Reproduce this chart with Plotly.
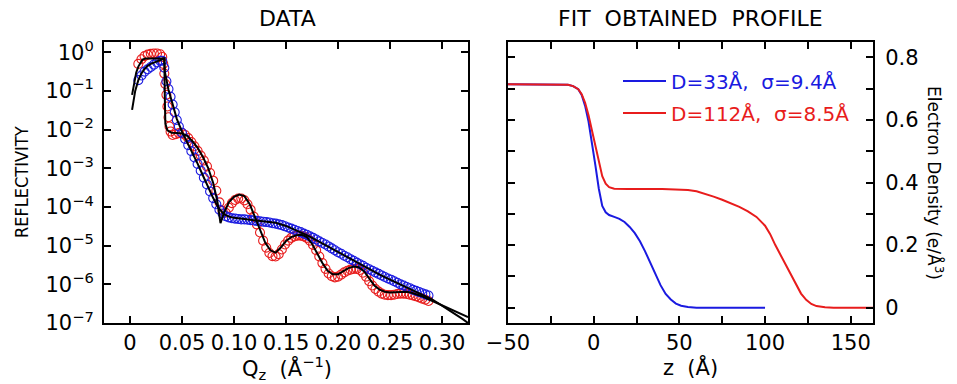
import plotly.graph_objects as go

# ---------------- LEFT PANEL DATA (Q in 1/Å, log10 reflectivity) ----------------
red_q = [0.008, 0.011, 0.014, 0.017, 0.020, 0.023, 0.026, 0.029, 0.031, 0.032, 0.033, 0.034,
         0.035, 0.036, 0.037, 0.038, 0.039, 0.041, 0.044, 0.047, 0.050, 0.053, 0.056, 0.059,
         0.062, 0.065, 0.068, 0.071, 0.074, 0.077, 0.080, 0.083, 0.086, 0.089, 0.092, 0.095,
         0.098, 0.101, 0.104, 0.107, 0.110, 0.113, 0.116, 0.119, 0.122, 0.125, 0.128, 0.131,
         0.134, 0.137, 0.140, 0.143, 0.146, 0.149, 0.152, 0.155, 0.158, 0.161, 0.164, 0.167,
         0.170, 0.173, 0.176, 0.179, 0.182, 0.185, 0.188, 0.191, 0.194, 0.197, 0.200, 0.203,
         0.206, 0.209, 0.212, 0.215, 0.218, 0.221, 0.224, 0.227, 0.230, 0.233, 0.236, 0.239,
         0.242, 0.245, 0.248, 0.251, 0.254, 0.257, 0.260, 0.263, 0.266, 0.269, 0.272, 0.275,
         0.278, 0.281, 0.284, 0.287]
red_logR = [-0.30, -0.18, -0.10, -0.06, -0.04, -0.03, -0.03, -0.05, -0.12, -0.30, -0.55, -0.82,
            -1.10, -1.40, -1.68, -1.92, -2.05, -2.14, -2.12, -2.09, -2.09, -2.14, -2.22, -2.32,
            -2.43, -2.55, -2.67, -2.80, -2.95, -3.12, -3.32, -3.58, -3.88, -4.10, -4.15, -4.02,
            -3.90, -3.82, -3.78, -3.78, -3.83, -3.93, -4.07, -4.25, -4.45, -4.66, -4.87, -5.05,
            -5.19, -5.27, -5.28, -5.22, -5.10, -4.97, -4.87, -4.80, -4.76, -4.74, -4.74, -4.76,
            -4.80, -4.87, -4.98, -5.12, -5.28, -5.45, -5.60, -5.72, -5.79, -5.82, -5.80, -5.75,
            -5.69, -5.65, -5.62, -5.60, -5.60, -5.63, -5.70, -5.80, -5.92, -6.03, -6.12, -6.19,
            -6.24, -6.27, -6.28, -6.28, -6.27, -6.25, -6.24, -6.24, -6.25, -6.27, -6.29, -6.31,
            -6.34, -6.37, -6.40, -6.43]

blue_q = [0.008, 0.011, 0.014, 0.017, 0.020, 0.023, 0.026, 0.029, 0.031, 0.033, 0.035, 0.037,
          0.039, 0.041, 0.043, 0.045, 0.047, 0.050, 0.053, 0.056, 0.059, 0.062, 0.065, 0.068,
          0.071, 0.074, 0.077, 0.080, 0.083, 0.086, 0.089, 0.092, 0.095, 0.098, 0.101, 0.104,
          0.107, 0.110, 0.113, 0.116, 0.119, 0.122, 0.125, 0.128, 0.131, 0.134, 0.137, 0.140,
          0.143, 0.146, 0.149, 0.152, 0.155, 0.158, 0.161, 0.164, 0.167, 0.170, 0.173, 0.176,
          0.179, 0.182, 0.185, 0.188, 0.191, 0.194, 0.197, 0.200, 0.203, 0.206, 0.209, 0.212,
          0.215, 0.218, 0.221, 0.224, 0.227, 0.230, 0.233, 0.236, 0.239, 0.242, 0.245, 0.248,
          0.251, 0.254, 0.257, 0.260, 0.263, 0.266, 0.269, 0.272, 0.275, 0.278, 0.281, 0.284,
          0.287]
blue_logR = [-0.72, -0.60, -0.50, -0.44, -0.38, -0.32, -0.26, -0.22, -0.22, -0.40, -0.75, -0.95,
             -1.15, -1.35, -1.55, -1.75, -1.92, -2.08, -2.24, -2.40, -2.56, -2.72, -2.89, -3.06,
             -3.24, -3.42, -3.60, -3.77, -3.93, -4.07, -4.17, -4.24, -4.27, -4.29, -4.30, -4.31,
             -4.32, -4.32, -4.33, -4.34, -4.35, -4.36, -4.37, -4.38, -4.39, -4.40, -4.42, -4.43,
             -4.45, -4.47, -4.50, -4.53, -4.56, -4.59, -4.62, -4.65, -4.69, -4.72, -4.76, -4.80,
             -4.84, -4.89, -4.93, -4.97, -5.02, -5.07, -5.12, -5.17, -5.21, -5.26, -5.30, -5.35,
             -5.39, -5.44, -5.48, -5.52, -5.57, -5.61, -5.65, -5.69, -5.73, -5.77, -5.81, -5.85,
             -5.88, -5.92, -5.96, -6.00, -6.03, -6.07, -6.10, -6.14, -6.17, -6.20, -6.23, -6.26,
             -6.29]

fit_red_q = [0.002, 0.004, 0.006, 0.008, 0.010, 0.012, 0.015, 0.020, 0.025, 0.030, 0.033, 0.0335,
             0.034, 0.036, 0.040, 0.045, 0.050, 0.055, 0.060, 0.065, 0.070, 0.075, 0.080, 0.084,
             0.087, 0.090, 0.095, 0.100, 0.105, 0.110, 0.115, 0.120, 0.125, 0.130, 0.135, 0.140,
             0.145, 0.150, 0.155, 0.160, 0.165, 0.170, 0.175, 0.180, 0.185, 0.190, 0.195, 0.200,
             0.205, 0.210, 0.215, 0.220, 0.225, 0.230, 0.235, 0.240, 0.245, 0.250, 0.255, 0.260,
             0.265, 0.270, 0.275, 0.280, 0.285, 0.290, 0.300, 0.310, 0.320, 0.325]
fit_red_logR = [-1.10, -0.75, -0.52, -0.37, -0.26, -0.19, -0.16, -0.16, -0.16, -0.16, -0.16, -1.20,
                -1.85, -2.02, -2.08, -2.09, -2.10, -2.16, -2.30, -2.47, -2.70, -2.98, -3.38, -3.85,
                -4.42, -4.18, -3.88, -3.74, -3.68, -3.72, -3.92, -4.25, -4.60, -4.92, -5.12, -5.18,
                -5.05, -4.88, -4.78, -4.73, -4.72, -4.78, -4.95, -5.20, -5.45, -5.65, -5.74, -5.74,
                -5.66, -5.58, -5.54, -5.56, -5.66, -5.86, -6.03, -6.14, -6.19, -6.21, -6.20, -6.19,
                -6.19, -6.21, -6.25, -6.30, -6.36, -6.42, -6.55, -6.68, -6.80, -6.85]

fit_blue_q = [0.002, 0.005, 0.008, 0.011, 0.014, 0.017, 0.020, 0.024, 0.029, 0.033, 0.0335, 0.035,
              0.037, 0.040, 0.045, 0.050, 0.055, 0.060, 0.065, 0.070, 0.075, 0.080, 0.085, 0.090,
              0.095, 0.100, 0.110, 0.120, 0.130, 0.140, 0.150, 0.160, 0.170, 0.180, 0.190, 0.200,
              0.210, 0.220, 0.230, 0.240, 0.250, 0.260, 0.270, 0.280, 0.290, 0.300, 0.310, 0.320,
              0.325]
fit_blue_logR = [-1.49, -1.00, -0.72, -0.55, -0.43, -0.35, -0.30, -0.26, -0.22, -0.16, -0.50, -0.75,
                 -0.97, -1.25, -1.72, -2.05, -2.32, -2.60, -2.88, -3.18, -3.48, -3.77, -4.02, -4.18,
                 -4.25, -4.28, -4.31, -4.34, -4.37, -4.41, -4.49, -4.60, -4.73, -4.87, -5.02, -5.17,
                 -5.32, -5.47, -5.61, -5.75, -5.88, -6.00, -6.12, -6.24, -6.38, -6.55, -6.72, -6.90,
                 -7.00]

q_ticks = [0, 0.05, 0.10, 0.15, 0.20, 0.25, 0.30]
q_ticklabels = ["0", "0.05", "0.10", "0.15", "0.20", "0.25", "0.30"]
r_exponents = [0, -1, -2, -3, -4, -5, -6, -7]

# ---------------- RIGHT PANEL DATA (z in Å, electron density e/Å^3) ----------------
prof_blue_z = [-50, -20, -15, -12, -9, -7, -5, -3, -1, 1, 3, 5, 7, 9, 12, 15, 18, 21, 24, 27,
               30, 33, 36, 39, 42, 45, 48, 51, 55, 60, 100]
prof_blue_rho = [0.714, 0.714, 0.712, 0.708, 0.698, 0.680, 0.645, 0.595, 0.530, 0.455, 0.380,
                 0.325, 0.305, 0.296, 0.290, 0.284, 0.274, 0.258, 0.238, 0.212, 0.180, 0.145,
                 0.108, 0.072, 0.044, 0.026, 0.013, 0.006, 0.002, 0.0, 0.0]

prof_red_z = [-50, -20, -15, -12, -9, -7, -5, -3, -1, 1, 3, 5, 7, 9, 12, 20, 40, 50, 55, 60,
              65, 70, 75, 80, 85, 90, 95, 100, 103, 106, 109, 112, 115, 118, 121, 124, 127,
              130, 135, 140, 163]
prof_red_rho = [0.714, 0.714, 0.712, 0.708, 0.698, 0.682, 0.655, 0.615, 0.565, 0.510, 0.460,
                0.420, 0.396, 0.385, 0.380, 0.379, 0.379, 0.378, 0.376, 0.372, 0.364, 0.355,
                0.345, 0.334, 0.322, 0.308, 0.290, 0.262, 0.235, 0.200, 0.168, 0.140, 0.105,
                0.072, 0.045, 0.025, 0.012, 0.005, 0.001, 0.0, 0.0]

z_ticks = [-50, 0, 50, 100, 150]
z_ticklabels = ["\u221250", "0", "50", "100", "150"]
rho_ticks = [0, 0.2, 0.4, 0.6, 0.8]
rho_ticklabels = ["0", "0.2", "0.4", "0.6", "0.8"]

legend_blue = "D=33\u00c5,\u00a0\u00a0\u03c3=9.4\u00c5"
legend_red = "D=112\u00c5,\u00a0\u00a0\u03c3=8.5\u00c5"

# ---------------- STYLE ----------------
W, H = 957, 384
FONT = "DejaVu Sans, Liberation Sans, Arial, sans-serif"
BLUE = "#1a1ae0"
RED = "#e81c1c"

fig = go.Figure()

fig.add_trace(go.Scatter(x=red_q, y=[10 ** v for v in red_logR], mode="markers",
                         marker=dict(symbol="circle-open", size=9, color=RED, line=dict(width=1.1, color=RED)),
                         showlegend=False, xaxis="x", yaxis="y"))
fig.add_trace(go.Scatter(x=blue_q, y=[10 ** v for v in blue_logR], mode="markers",
                         marker=dict(symbol="circle-open", size=9, color=BLUE, line=dict(width=1.1, color=BLUE)),
                         showlegend=False, xaxis="x", yaxis="y"))
fig.add_trace(go.Scatter(x=fit_blue_q, y=[10 ** v for v in fit_blue_logR], mode="lines",
                         line=dict(color="black", width=2), showlegend=False, xaxis="x", yaxis="y"))
fig.add_trace(go.Scatter(x=fit_red_q, y=[10 ** v for v in fit_red_logR], mode="lines",
                         line=dict(color="black", width=2), showlegend=False, xaxis="x", yaxis="y"))

fig.add_trace(go.Scatter(x=prof_blue_z, y=prof_blue_rho, mode="lines", name=legend_blue,
                         line=dict(color=BLUE, width=2), xaxis="x2", yaxis="y2", legend="legend"))
fig.add_trace(go.Scatter(x=prof_red_z, y=prof_red_rho, mode="lines", name=legend_red,
                         line=dict(color=RED, width=2), xaxis="x2", yaxis="y2", legend="legend2"))

ydom = [61 / H, 342 / H]
TICK = 21
axis_common = dict(showline=True, linecolor="black", linewidth=2, mirror="allticks",
                   ticks="inside", ticklen=7, tickwidth=1.5, tickcolor="black",
                   showgrid=False, zeroline=False, automargin=False,
                   tickfont=dict(family=FONT, size=TICK, color="black"))

fig.update_layout(
    width=W, height=H,
    margin=dict(l=0, r=0, t=0, b=0, autoexpand=False),
    paper_bgcolor="white", plot_bgcolor="white",
    font=dict(family=FONT, color="black"),
    xaxis=dict(domain=[104 / W, 468 / W], anchor="y", range=[-0.025, 0.325],
               tickvals=q_ticks, ticktext=q_ticklabels, **axis_common),
    yaxis=dict(domain=ydom, anchor="x", type="log", range=[-7, 0.266],
               tickvals=[10 ** e for e in r_exponents],
               ticktext=["10<sup>%s</sup>" % (str(e).replace("-", "\u2212")) for e in r_exponents],
               ticklabelstandoff=4, **axis_common),
    xaxis2=dict(domain=[508 / W, 873 / W], anchor="y2", range=[-50, 163],
                tickvals=z_ticks, ticktext=z_ticklabels,
                minor=dict(dtick=25, tick0=0, ticks="inside", ticklen=7, tickwidth=1.5, tickcolor="black"),
                **axis_common),
    yaxis2=dict(domain=ydom, anchor="x2", side="right", range=[-0.049, 0.849],
                tickvals=rho_ticks, ticktext=rho_ticklabels, ticklabelstandoff=6,
                minor=dict(dtick=0.1, tick0=0, ticks="inside", ticklen=7, tickwidth=1.5, tickcolor="black"),
                **axis_common),
    legend=dict(x=618 / W, xanchor="left", y=1 - 81 / H, yanchor="middle",
                bgcolor="rgba(0,0,0,0)", borderwidth=0, itemwidth=43,
                font=dict(family=FONT, size=20, color=BLUE)),
    legend2=dict(x=618 / W, xanchor="left", y=1 - 113 / H, yanchor="middle",
                 bgcolor="rgba(0,0,0,0)", borderwidth=0, itemwidth=43,
                 font=dict(family=FONT, size=20, color=RED)),
)

ann_font = dict(family=FONT, size=22, color="black")
fig.add_annotation(text="DATA", x=287 / W, y=1 - 18.5 / H, xref="paper", yref="paper",
                   xanchor="center", yanchor="middle", showarrow=False, font=ann_font)
fig.add_annotation(text="FIT\u00a0\u00a0OBTAINED\u00a0\u00a0PROFILE", x=690 / W, y=1 - 18.5 / H,
                   xref="paper", yref="paper", xanchor="center", yanchor="middle",
                   showarrow=False, font=ann_font)
fig.add_annotation(text="Q<sub>z</sub>\u00a0\u00a0(\u00c5<sup>\u22121</sup>)", x=287 / W, y=1 - 368 / H,
                   xref="paper", yref="paper", xanchor="center", yanchor="middle",
                   showarrow=False, font=dict(family=FONT, size=21, color="black"))
fig.add_annotation(text="z\u00a0\u00a0(\u00c5)", x=690 / W, y=1 - 367 / H,
                   xref="paper", yref="paper", xanchor="center", yanchor="middle",
                   showarrow=False, font=dict(family=FONT, size=21, color="black"))
fig.add_annotation(text="REFLECTIVITY", x=22 / W, y=1 - 182 / H, xref="paper", yref="paper",
                   xanchor="center", yanchor="middle", textangle=-90, showarrow=False,
                   font=dict(family="Liberation Sans Narrow, DejaVu Sans Condensed, Liberation Sans, sans-serif",
                             size=18, color="black"))
fig.add_annotation(text="Electron Density (e/\u00c5<sup>3</sup>)", x=935 / W, y=1 - 183 / H,
                   xref="paper", yref="paper", xanchor="center", yanchor="middle", textangle=90,
                   showarrow=False, font=dict(family=FONT, size=17, color="black"))

fig.write_html("out.html")
